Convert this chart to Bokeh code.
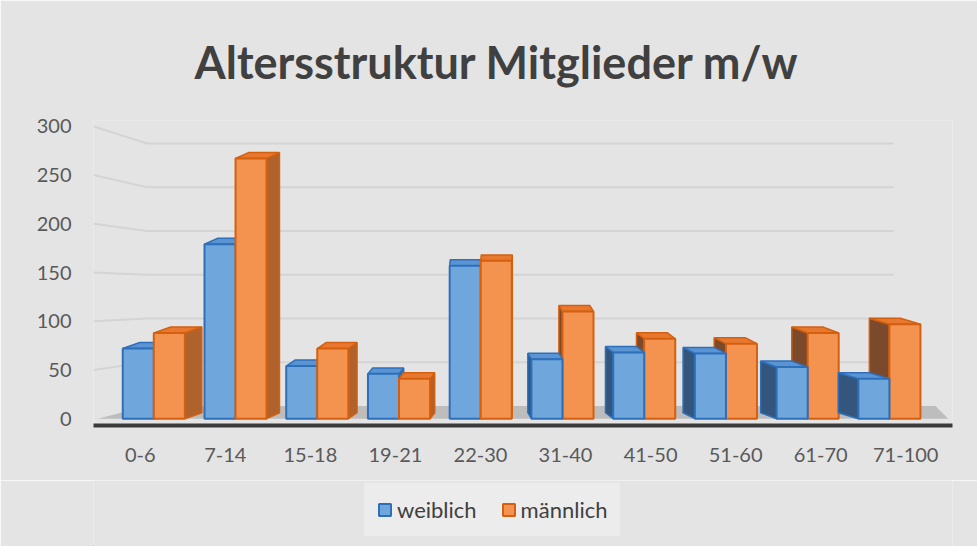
from bokeh.plotting import figure
from bokeh.models import Range1d, FixedTicker, Legend, LegendItem
from bokeh.layouts import column
from bokeh.embed import file_html
from bokeh.resources import INLINE

# ---- data ----
categories = ["0-6", "7-14", "15-18", "19-21", "22-30", "31-40", "41-50", "51-60", "61-70", "71-100"]
weiblich = [72, 179, 54, 46, 157, 61, 68, 67, 53, 41]
maennlich = [88, 267, 72, 41, 162, 110, 82, 77, 88, 97]
y_ticks = [0, 50, 100, 150, 200, 250, 300]
series_names = ["weiblich", "männlich"]

# ---- styling / pseudo-3D geometry ----
BAR_W = 0.365
PAIR_SHIFT, PAIR_SCALE = 0.159, 0.961      # perspective shift of bar pairs
DX0, DXS = 0.2, -0.0484                    # depth offset in x per category
DY = 6.1                                   # depth offset in y
WALL_Y0, WALL_K = 13.0, 0.898              # back wall mapping of gridlines
WALL_X0, WALL_X1 = 0.08, 8.86
X_START, X_END = -0.55, 9.55

BLUE = dict(front="#6fa6dc", edge="#2e6fba", top="#5a94d2", side_r="#3f6c9c", side_l="#34567c")
ORANGE = dict(front="#f3934f", edge="#d4600f", top="#e8782f", side_r="#b0622c", side_l="#7b4a2d")
TEXT = "#595959"
BG = "#e4e4e4"
LEGEND_BG = "#ececec"
FONT = "Lato"

p = figure(width=977, height=480,
           x_range=Range1d(X_START, X_END), y_range=Range1d(-7, 306),
           output_backend="svg", toolbar_location=None,
           min_border_left=93, min_border_right=25, min_border_top=119, min_border_bottom=55)
p.background_fill_color = BG
p.border_fill_color = BG
p.outline_line_color = None
p.grid.visible = False

# title
p.title.text = "Altersstruktur Mitglieder m/w"
p.title.align = "left"
p.title.offset = 101
p.title.text_font = FONT
p.title.text_font_size = "45px"
p.title.text_font_style = "bold"
p.title.text_color = "#404040"
p.title.standoff = 64

# axes
p.yaxis.ticker = FixedTicker(ticks=y_ticks)
p.yaxis.axis_line_color = None
p.yaxis.major_tick_line_color = None
p.yaxis.minor_tick_line_color = None
p.yaxis.major_label_text_font = FONT
p.yaxis.major_label_text_font_size = "20px"
p.yaxis.major_label_text_color = TEXT
p.yaxis.major_label_standoff = 16

p.xaxis.ticker = FixedTicker(ticks=list(range(len(categories))))
p.xaxis.major_label_overrides = {i: c for i, c in enumerate(categories)}
p.xaxis.axis_line_color = "#3a3a3a"
p.xaxis.axis_line_width = 4
p.xaxis.major_tick_line_color = None
p.xaxis.minor_tick_line_color = None
p.xaxis.major_label_text_font = FONT
p.xaxis.major_label_text_font_size = "20px"
p.xaxis.major_label_text_color = TEXT
p.xaxis.major_label_standoff = 16

# gridlines on side wall + back wall (derived from tick values)
grid_xs, grid_ys = [], []
for t in y_ticks[1:]:
    yb = WALL_Y0 + WALL_K * t
    grid_xs.append([X_START, WALL_X0, WALL_X1])
    grid_ys.append([t, yb, yb])
p.multi_line(grid_xs, grid_ys, line_color="#d4d4d4", line_width=2)

# floor
p.patch([X_START + 0.05, X_END - 0.05, X_END - 0.2, WALL_X0], [0, 0, WALL_Y0, WALL_Y0],
        fill_color="#bdbdbd", line_color=None)


def draw(indices, values, offset, col):
    xs_side, ys_side, xs_top, ys_top, xc, tops = [], [], [], [], [], []
    for i in indices:
        v = values[i]
        c = PAIR_SHIFT + PAIR_SCALE * i + offset
        xl, xr = c - BAR_W / 2, c + BAR_W / 2
        dx = DX0 + DXS * i
        xe = xr if dx > 0 else xl
        xs_side.append([xe, xe + dx, xe + dx, xe])
        ys_side.append([0, DY, v + DY, v])
        xs_top.append([xl, xr, xr + dx, xl + dx])
        ys_top.append([v, v, v + DY, v + DY])
        xc.append(c)
        tops.append(v)
    right = (DX0 + DXS * indices[0]) > 0
    p.patches(xs_side, ys_side, fill_color=col["side_r"] if right else col["side_l"],
              line_color=col["edge"], line_width=1.5)
    p.patches(xs_top, ys_top, fill_color=col["top"], line_color=col["edge"], line_width=1.5)
    return p.vbar(x=xc, width=BAR_W, top=tops, bottom=0, fill_color=col["front"],
                  line_color=col["edge"], line_width=2)


left_idx = [i for i in range(len(categories)) if DX0 + DXS * i > 0]
right_idx = [i for i in range(len(categories)) if DX0 + DXS * i <= 0]

draw(right_idx, maennlich, BAR_W / 2, ORANGE)
draw(left_idx, weiblich, -BAR_W / 2, BLUE)
draw(right_idx, weiblich, -BAR_W / 2, BLUE)
draw(left_idx, maennlich, BAR_W / 2, ORANGE)

# ---- legend strip below the chart ----
lg = figure(width=977, height=66, x_range=Range1d(0, 1), y_range=Range1d(0, 1),
            output_backend="svg", toolbar_location=None,
            min_border_left=0, min_border_right=0, min_border_top=0, min_border_bottom=0)
lg.axis.visible = False
lg.grid.visible = False
lg.outline_line_color = None
lg.background_fill_color = BG
lg.border_fill_color = BG
# key renderers sit outside the visible range; they only provide the legend swatches
kb = lg.vbar(x=[-5], top=[-5], width=0.1, fill_color=BLUE["front"], line_color=BLUE["edge"], line_width=2)
ko = lg.vbar(x=[-5], top=[-5], width=0.1, fill_color=ORANGE["front"], line_color=ORANGE["edge"], line_width=2)
legend = Legend(items=[LegendItem(label=series_names[0], renderers=[kb]),
                       LegendItem(label=series_names[1], renderers=[ko])],
                location=(271, 10), orientation="horizontal",
                background_fill_color=LEGEND_BG, background_fill_alpha=1,
                border_line_color=LEGEND_BG, border_line_width=1,
                label_text_font=FONT, label_text_font_size="22px",
                label_text_color="#404040", glyph_width=15, glyph_height=15,
                label_standoff=5, spacing=24, padding=12, margin=0)
lg.add_layout(legend, "center")

open("out.html", "w").write(file_html(column(p, lg, spacing=0), INLINE))
